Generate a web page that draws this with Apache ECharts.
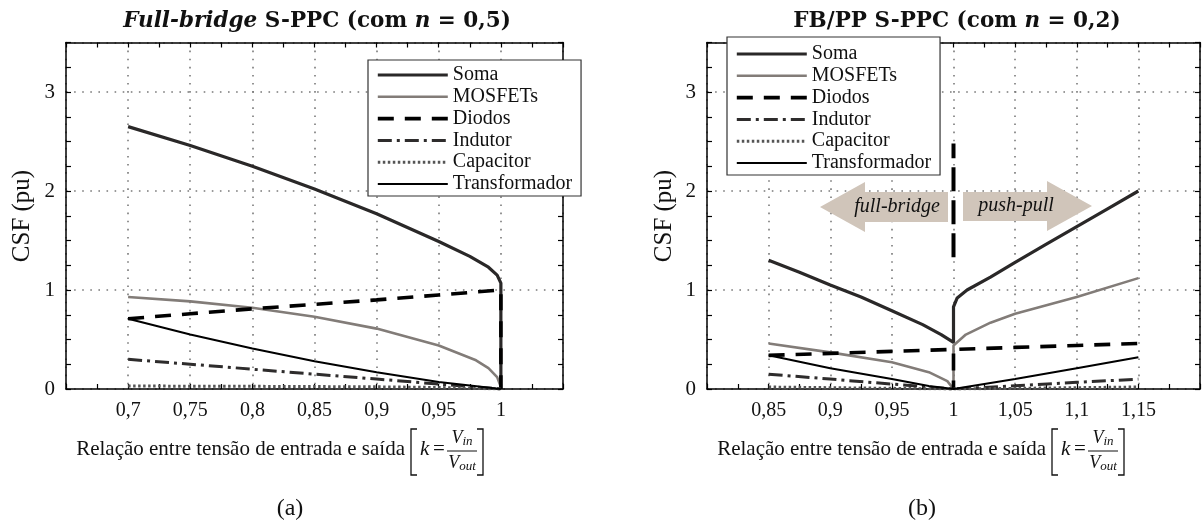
<!DOCTYPE html>
<html>
<head>
<meta charset="utf-8">
<script src="https://cdn.jsdelivr.net/npm/echarts@6/dist/echarts.min.js"></script>
<style>
  html, body { margin: 0; padding: 0; background: #fff; }
  #chart { width: 1203px; height: 524px; }
</style>
</head>
<body>
<div id="chart"></div>
<script>
// ---- (a) Full-bridge S-PPC, n = 0,5 ----
const fbSomaK   = [0.7, 0.75, 0.8, 0.85, 0.9, 0.95, 0.975, 0.99, 0.997, 1.0, 1.0];
const fbSomaV   = [2.65, 2.46, 2.25, 2.02, 1.77, 1.49, 1.34, 1.23, 1.15, 1.07, 0];
const fbMosK    = [0.7, 0.75, 0.8, 0.85, 0.9, 0.95, 0.98, 0.99, 0.997, 1.0];
const fbMosV    = [0.93, 0.885, 0.82, 0.73, 0.61, 0.44, 0.29, 0.21, 0.12, 0.02];
const fbDiodK   = [0.7, 0.75, 0.8, 0.85, 0.9, 0.95, 1.0, 1.0];
const fbDiodV   = [0.71, 0.76, 0.81, 0.855, 0.90, 0.95, 1.0, 0];
const fbIndK    = [0.7, 0.75, 0.8, 0.85, 0.9, 0.95, 1.0];
const fbIndV    = [0.30, 0.25, 0.20, 0.15, 0.10, 0.05, 0];
const fbCapK    = [0.7, 0.8, 0.9, 0.95, 1.0];
const fbCapV    = [0.03, 0.027, 0.022, 0.015, 0];
const fbTrafK   = [0.7, 0.75, 0.8, 0.85, 0.9, 0.95, 1.0];
const fbTrafV   = [0.71, 0.55, 0.41, 0.28, 0.17, 0.07, 0];

// ---- (b) FB/PP S-PPC, n = 0,2 ----
const ppSomaK   = [0.85, 0.875, 0.9, 0.925, 0.95, 0.975, 0.99, 1.0, 1.0, 1.003, 1.011, 1.03, 1.05, 1.075, 1.1, 1.125, 1.15];
const ppSomaV   = [1.30, 1.18, 1.05, 0.93, 0.79, 0.65, 0.55, 0.47, 0.83, 0.92, 1.0, 1.13, 1.28, 1.46, 1.64, 1.82, 2.0];
const ppMosK    = [0.85, 0.9, 0.95, 0.98, 0.995, 1.0, 1.0, 1.01, 1.03, 1.05, 1.1, 1.15];
const ppMosV    = [0.46, 0.37, 0.27, 0.17, 0.08, 0.0, 0.44, 0.55, 0.67, 0.76, 0.93, 1.12];
const ppDiodK   = [0.85, 0.9, 0.95, 1.0, 1.0, 1.0, 1.05, 1.1, 1.15];
const ppDiodV   = [0.34, 0.36, 0.38, 0.40, 0, 0.40, 0.42, 0.44, 0.46];
const ppIndK    = [0.85, 0.9, 0.95, 1.0, 1.05, 1.1, 1.15];
const ppIndV    = [0.15, 0.10, 0.05, 0, 0.033, 0.067, 0.10];
const ppCapK    = [0.85, 1.0, 1.15];
const ppCapV    = [0.02, 0.0, 0.02];
const ppTrafK   = [0.85, 0.9, 0.95, 0.98, 1.0, 1.05, 1.1, 1.15];
const ppTrafV   = [0.34, 0.21, 0.10, 0.03, 0, 0.10, 0.21, 0.32];
// dashed divider between the two operating regions
const dividerK  = [1.0, 1.0];
const dividerV  = [1.33, 2.48];

const names = ['Soma', 'MOSFETs', 'Diodos', 'Indutor', 'Capacitor', 'Transformador'];
const yTicks = [0, 1, 2, 3];

const SERIF = '"Liberation Serif", "DejaVu Serif", serif';
const WIDE_SERIF = '"DejaVu Serif", "Liberation Serif", serif';

const styles = {
  Soma:          { color: '#2a2828', width: 3.2, type: 'solid' },
  MOSFETs:       { color: '#827c78', width: 2.6, type: 'solid' },
  Diodos:        { color: '#000000', width: 3.6, type: [16, 11] },
  Indutor:       { color: '#2e2c2c', width: 3.0, type: [14, 5, 3, 5] },
  Capacitor:     { color: '#555555', width: 3.0, type: [2.5, 2.5] },
  Transformador: { color: '#000000', width: 2.0, type: 'solid' }
};

function pairs(ks, vs) { return ks.map((k, i) => [k, vs[i]]); }

function lineSeries(name, ks, vs, gi) {
  const s = styles[name];
  return {
    name, type: 'line', xAxisIndex: gi * 2, yAxisIndex: gi * 2,
    data: pairs(ks, vs), symbol: 'none', showSymbol: false, smooth: false,
    lineStyle: { color: s.color, width: s.width, type: s.type },
    itemStyle: { color: s.color },
    emphasis: { disabled: true }, animation: false, z: 3
  };
}

function fmt(lo, hi) {
  return v => (Math.abs(v - lo) < 1e-6 || Math.abs(v - hi) < 1e-6) ? '' :
    String(+v.toFixed(3)).replace('.', ',');
}

const axisLine = { show: true, onZero: false, lineStyle: { color: '#000', width: 1.5 } };
const tick = { show: true, inside: true, length: 5, lineStyle: { color: '#000', width: 1.2 } };
const grid = { show: true, lineStyle: { color: '#7a7a7a', width: 1.6, type: [1.6, 6.5] } };

function xAxes(gi, min, max) {
  const base = { type: 'value', gridIndex: gi, min, max, interval: 0.05,
    axisLine, axisTick: tick, minorTick: { show: true, splitNumber: 2, length: 5, lineStyle: { color: '#000', width: 1.2 } } };
  return [
    Object.assign({}, base, { position: 'bottom',
      axisLabel: { show: true, formatter: fmt(min, max), color: '#111', fontFamily: SERIF, fontSize: 20, margin: 12, showMinLabel: true, showMaxLabel: true },
      splitLine: grid }),
    Object.assign({}, base, { position: 'top', axisLabel: { show: false }, splitLine: { show: false } })
  ];
}
function yAxes(gi) {
  const base = { type: 'value', gridIndex: gi, min: 0, max: 3.5, interval: 1,
    axisLine, axisTick: tick, minorTick: { show: true, splitNumber: 4, length: 5, lineStyle: { color: '#000', width: 1.2 } } };
  return [
    Object.assign({}, base, { position: 'left',
      axisLabel: { show: true, color: '#111', fontFamily: SERIF, fontSize: 21, margin: 11,
        formatter: v => yTicks.includes(v) ? String(v) : '' },
      splitLine: grid }),
    Object.assign({}, base, { position: 'right', axisLabel: { show: false }, splitLine: { show: false } })
  ];
}

function legend(left, top, padTop) {
  return {
    data: names, orient: 'vertical', left, top,
    itemWidth: 70, itemHeight: 14, itemGap: 1.8,
    padding: [padTop, 9, 2, 8],
    borderColor: '#333', borderWidth: 1.2, backgroundColor: '#fff',
    itemStyle: { color: 'rgba(0,0,0,0)', borderColor: 'rgba(0,0,0,0)', borderWidth: 0 },
    lineStyle: { width: 'inherit', type: 'inherit', color: 'inherit' },
    textStyle: { fontFamily: SERIF, fontSize: 20, color: '#111', lineHeight: 16 },
    selectedMode: false, z: 10
  };
}

const series = [
  lineSeries('Soma', fbSomaK, fbSomaV, 0),
  lineSeries('MOSFETs', fbMosK, fbMosV, 0),
  lineSeries('Diodos', fbDiodK, fbDiodV, 0),
  lineSeries('Indutor', fbIndK, fbIndV, 0),
  lineSeries('Capacitor', fbCapK, fbCapV, 0),
  lineSeries('Transformador', fbTrafK, fbTrafV, 0),
  lineSeries('Soma', ppSomaK, ppSomaV, 1),
  lineSeries('MOSFETs', ppMosK, ppMosV, 1),
  lineSeries('Diodos', ppDiodK, ppDiodV, 1),
  lineSeries('Indutor', ppIndK, ppIndV, 1),
  lineSeries('Capacitor', ppCapK, ppCapV, 1),
  lineSeries('Transformador', ppTrafK, ppTrafV, 1),
  {
    name: 'divisor', type: 'line', xAxisIndex: 2, yAxisIndex: 2,
    data: pairs(dividerK, dividerV), symbol: 'none',
    lineStyle: { color: '#000', width: 4, type: [24, 9] }, emphasis: { disabled: true }, z: 4
  }
];

// ---- titles, axis names and annotations ----
const titleRich = {
  bi: { fontFamily: WIDE_SERIF, fontSize: 21.5, fontWeight: 'bold', fontStyle: 'italic', fill: '#111' },
  b:  { fontFamily: WIDE_SERIF, fontSize: 21.5, fontWeight: 'bold', fill: '#111' },
  i:  { fontFamily: WIDE_SERIF, fontSize: 21.5, fontWeight: 'bold', fontStyle: 'italic', fill: '#111' }
};

function title(cx, text) {
  return { type: 'text', x: cx, y: 21, z: 20,
    style: { text, rich: titleRich, align: 'center', verticalAlign: 'middle' } };
}

function yName(cx) {
  return { type: 'text', x: cx, y: 216, rotation: Math.PI / 2, z: 20,
    style: { text: 'CSF (pu)', fontFamily: SERIF, fontSize: 25, fill: '#111', align: 'center', verticalAlign: 'middle' } };
}

// x-axis caption with the bracketed fraction k = Vin / Vout
function xName(rightX) {
  const y = 449, fs = 21;
  const t = (x, yy, text, extra) => ({ type: 'text', x, y: yy, z: 20,
    style: Object.assign({ text, fontFamily: SERIF, fontSize: fs, fill: '#111', verticalAlign: 'middle' }, extra || {}) });
  const bx = rightX + 6;
  const frac = { v: { fontFamily: SERIF, fontSize: 18, fontStyle: 'italic' }, s: { fontFamily: SERIF, fontSize: 13, fontStyle: 'italic', padding: [8, 0, 0, 0] } };
  return [
    t(rightX, y, 'Relação entre tensão de entrada e saída', { align: 'right' }),
    { type: 'polyline', z: 20, shape: { points: [[bx + 6, 429], [bx, 429], [bx, 475], [bx + 6, 475]] }, style: { stroke: '#111', lineWidth: 1.3, fill: null } },
    t(bx + 9, y, 'k', { fontStyle: 'italic', align: 'left' }),
    t(bx + 22, y, '=', { align: 'left' }),
    t(bx + 51, 438, '{v|V}{s|in}', { align: 'center', rich: frac }),
    { type: 'line', z: 20, shape: { x1: bx + 36, y1: 451, x2: bx + 66, y2: 451 }, style: { stroke: '#111', lineWidth: 1 } },
    t(bx + 51, 463, '{v|V}{s|out}', { align: 'center', rich: frac }),
    { type: 'polyline', z: 20, shape: { points: [[bx + 66, 429], [bx + 72, 429], [bx + 72, 475], [bx + 66, 475]] }, style: { stroke: '#111', lineWidth: 1.3, fill: null } }
  ];
}

const arrowFill = '#d0c5ba';
const graphics = [
  title(317, '{bi|Full-bridge}{b| S-PPC (com }{i|n}{b| = 0,5)}'),
  title(957, '{b|FB/PP S-PPC (com }{i|n}{b| = 0,2)}'),
  yName(22), yName(664),
  ...xName(405), ...xName(1046),
  { type: 'text', x: 290, y: 509, z: 20, style: { text: '(a)', fontFamily: SERIF, fontSize: 24, fill: '#111', align: 'center', verticalAlign: 'middle' } },
  { type: 'text', x: 922, y: 509, z: 20, style: { text: '(b)', fontFamily: SERIF, fontSize: 24, fill: '#111', align: 'center', verticalAlign: 'middle' } },
  { type: 'polygon', z: 5, shape: { points: [[820, 207], [865, 182], [865, 192], [948, 192], [948, 222], [865, 222], [865, 232]] }, style: { fill: arrowFill } },
  { type: 'polygon', z: 5, shape: { points: [[963, 192], [1047, 192], [1047, 181], [1092, 206], [1047, 231], [1047, 221], [963, 221]] }, style: { fill: arrowFill } },
  { type: 'text', x: 897, y: 207, z: 6, style: { text: 'full-bridge', fontFamily: SERIF, fontStyle: 'italic', fontSize: 20, fill: '#111', align: 'center', verticalAlign: 'middle' } },
  { type: 'text', x: 1016, y: 206, z: 6, style: { text: 'push-pull', fontFamily: SERIF, fontStyle: 'italic', fontSize: 20, fill: '#111', align: 'center', verticalAlign: 'middle' } }
];

const chart = echarts.init(document.getElementById('chart'), null, { renderer: 'canvas' });
chart.setOption({
  animation: false,
  backgroundColor: '#fff',
  grid: [
    { left: 66, top: 42.5, width: 497, height: 346.5 },
    { left: 707, top: 42.5, width: 495, height: 346.5 }
  ],
  xAxis: [...xAxes(0, 0.65, 1.05), ...xAxes(1, 0.8, 1.2)],
  yAxis: [...yAxes(0), ...yAxes(1)],
  legend: [legend(368, 60, 5), legend(727, 37, 7)],
  series,
  graphic: graphics
});
</script>
</body>
</html>
